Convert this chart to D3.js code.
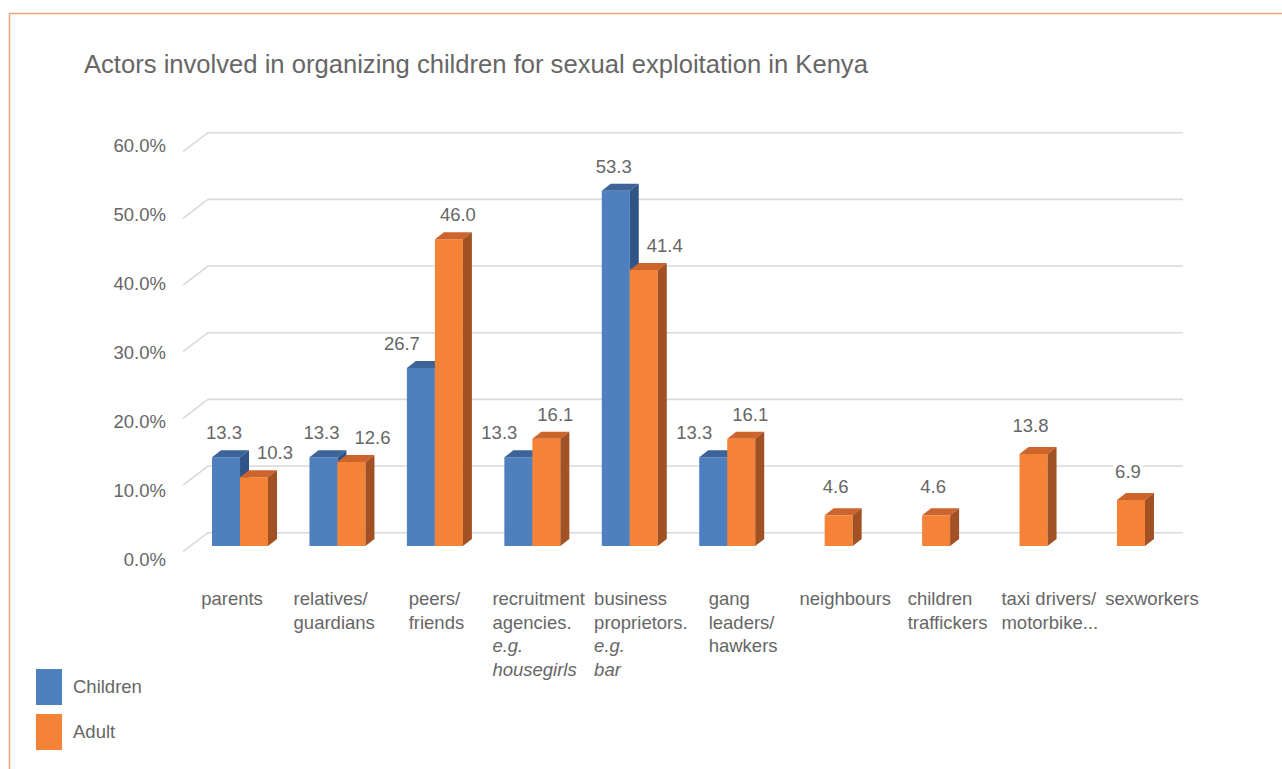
<!DOCTYPE html>
<html>
<head>
<meta charset="utf-8">
<script src="https://cdn.jsdelivr.net/npm/d3@7"></script>
<style>
  html, body { margin: 0; padding: 0; background: #ffffff; }
  svg { display: block; }
  text { font-family: "Liberation Sans", Arial, Helvetica, sans-serif; fill: #666666; }
</style>
</head>
<body>
<svg id="chart" width="1282" height="769"></svg>
<script>
// ---------------- data ----------------
const title = "Actors involved in organizing children for sexual exploitation in Kenya";
const categories = [
  "parents",
  "relatives/ guardians",
  "peers/ friends",
  "recruitment agencies. e.g. housegirls",
  "business proprietors. e.g. bar",
  "gang leaders/ hawkers",
  "neighbours",
  "children traffickers",
  "taxi drivers/ motorbike...",
  "sexworkers"
];
// display lines of each category label ("*...*" = italic line)
const categoryLines = [
  ["parents"],
  ["relatives/", "guardians"],
  ["peers/", "friends"],
  ["recruitment", "agencies.", "*e.g.*", "*housegirls*"],
  ["business", "proprietors.", "*e.g.*", "*bar*"],
  ["gang", "leaders/", "hawkers"],
  ["neighbours"],
  ["children", "traffickers"],
  ["taxi drivers/", "motorbike..."],
  ["sexworkers"]
];
const seriesNames = ["Children", "Adult"];
const childrenValues = [13.3, 13.3, 26.7, 13.3, 53.3, 13.3, null, null, null, null];
const adultValues    = [10.3, 12.6, 46.0, 16.1, 41.4, 16.1, 4.6, 4.6, 13.8, 6.9];
const yTicks = [0, 10, 20, 30, 40, 50, 60];
const yTickLabels = ["0.0%", "10.0%", "20.0%", "30.0%", "40.0%", "50.0%", "60.0%"];

// ---------------- styles ----------------
const faceColors = {
  Children: { front: "#4E7FBE", top: "#3C6498", side: "#2F5487" },
  Adult:    { front: "#F58337", top: "#CC642C", side: "#A15123" }
};

const svg = d3.select("#chart");

// frame
svg.append("rect")
  .attr("x", 9.5).attr("y", 13.5)
  .attr("width", 1300).attr("height", 800)
  .attr("fill", "none")
  .attr("stroke", "#F2A375")
  .attr("stroke-width", 1.5);

// title
svg.append("text")
  .attr("x", 84).attr("y", 73)
  .style("font-size", "25.6px")
  .text(title);

// ---------------- scales ----------------
const x = d3.scaleBand().domain(categories).range([191.3, 1165.7]);
const xs = d3.scaleBand().domain(seriesNames).range([-28, 28]);
const y = d3.scaleLinear().domain([0, 60]).range([546, 146]);
const yLabel = d3.scaleLinear().domain([0, 60]).range([559.5, 145.5]);
const xLabel = d3.scalePoint().domain(categories).range([232, 1152]);

const wallBack = 13.3;       // vertical offset of back wall relative to bar front
const wallDx = 25, wallDy = 19;
const wallLeft = 208, wallRight = 1183;
const barDx = 9, barDy = 7;

// ---------------- gridlines (back wall + side diagonal) ----------------
const grid = svg.append("g");
yTicks.forEach(v => {
  const gy = y(v) - wallBack;
  grid.append("path")
    .attr("d", `M${wallLeft - wallDx},${gy + wallDy} L${wallLeft},${gy} L${wallRight},${gy}`)
    .attr("fill", "none")
    .attr("stroke", "#D9D9D9")
    .attr("stroke-width", 1.6);
});

// y tick labels
svg.append("g").selectAll("text")
  .data(yTicks)
  .join("text")
  .attr("x", 166)
  .attr("y", d => yLabel(d) + 6.6)
  .attr("text-anchor", "end")
  .style("font-size", "18.5px")
  .text((d, i) => yTickLabels[i]);

// ---------------- bars ----------------
const barsData = [];
categories.forEach((c, i) => {
  [childrenValues[i], adultValues[i]].forEach((v, s) => {
    if (v == null) return;
    barsData.push({ cat: c, idx: i, series: seriesNames[s], value: v });
  });
});

const barsG = svg.append("g");
barsData.forEach(d => {
  const cx = x(d.cat) + x.bandwidth() / 2;
  const x0 = cx + xs(d.series);
  const x1 = x0 + xs.bandwidth();
  const yt = y(d.value);
  const yb = y(0);
  const col = faceColors[d.series];
  const g = barsG.append("g");
  g.append("path")
    .attr("d", `M${x0},${yt} L${x1},${yt} L${x1},${yb} L${x0},${yb} Z`)
    .attr("fill", col.front);
  g.append("path")
    .attr("d", `M${x0},${yt} L${x0 + barDx},${yt - barDy} L${x1 + barDx},${yt - barDy} L${x1},${yt} Z`)
    .attr("fill", col.top);
  g.append("path")
    .attr("d", `M${x1},${yt} L${x1 + barDx},${yt - barDy} L${x1 + barDx},${yb - barDy} L${x1},${yb} Z`)
    .attr("fill", col.side);
});

// ---------------- data labels ----------------
const labelsG = svg.append("g");
barsData.forEach(d => {
  const i = d.idx;
  const sibling = d.series === "Children" ? adultValues[i] : childrenValues[i];
  const cx = x(d.cat) + x.bandwidth() / 2;
  const center = cx + xs(d.series) + xs.bandwidth() / 2;
  let dx, dy;
  if (sibling == null) { dx = -3; dy = -22; }
  else {
    const shorter = d.value < sibling;
    if (d.series === "Children") dx = shorter ? -19 : -2;
    else dx = shorter ? 21 : 9;
    dy = -18;
  }
  const lg = labelsG.append("g");
  const bg = lg.append("rect").attr("fill", "#ffffff");
  const t = lg.append("text")
    .attr("x", center + dx)
    .attr("y", y(d.value) + dy)
    .attr("text-anchor", "middle")
    .style("font-size", "18.5px")
    .text(d3.format(".1f")(d.value));
  const bb = t.node().getBBox();
  bg.attr("x", bb.x - 2).attr("y", bb.y + 1)
    .attr("width", bb.width + 4).attr("height", bb.height - 2);
});

// ---------------- category labels ----------------
const catG = svg.append("g");
categories.forEach((c, i) => {
  const lines = categoryLines[i];
  const g = catG.append("g");
  const texts = lines.map((ln, k) => {
    const italic = ln.startsWith("*") && ln.endsWith("*");
    return g.append("text")
      .attr("y", 605 + k * 23.7)
      .style("font-size", "18.5px")
      .style("font-style", italic ? "italic" : "normal")
      .text(italic ? ln.slice(1, -1) : ln);
  });
  const maxW = d3.max(texts, t => t.node().getComputedTextLength());
  const left = xLabel(c) - maxW / 2;
  texts.forEach(t => t.attr("x", left));
});

// ---------------- legend ----------------
const legend = svg.append("g");
seriesNames.forEach((s, k) => {
  legend.append("rect")
    .attr("x", 36).attr("y", 669 + k * 45)
    .attr("width", 26).attr("height", 36)
    .attr("fill", faceColors[s].front);
  legend.append("text")
    .attr("x", 73).attr("y", 692.5 + k * 45)
    .style("font-size", "18.5px")
    .text(s);
});
</script>
</body>
</html>
